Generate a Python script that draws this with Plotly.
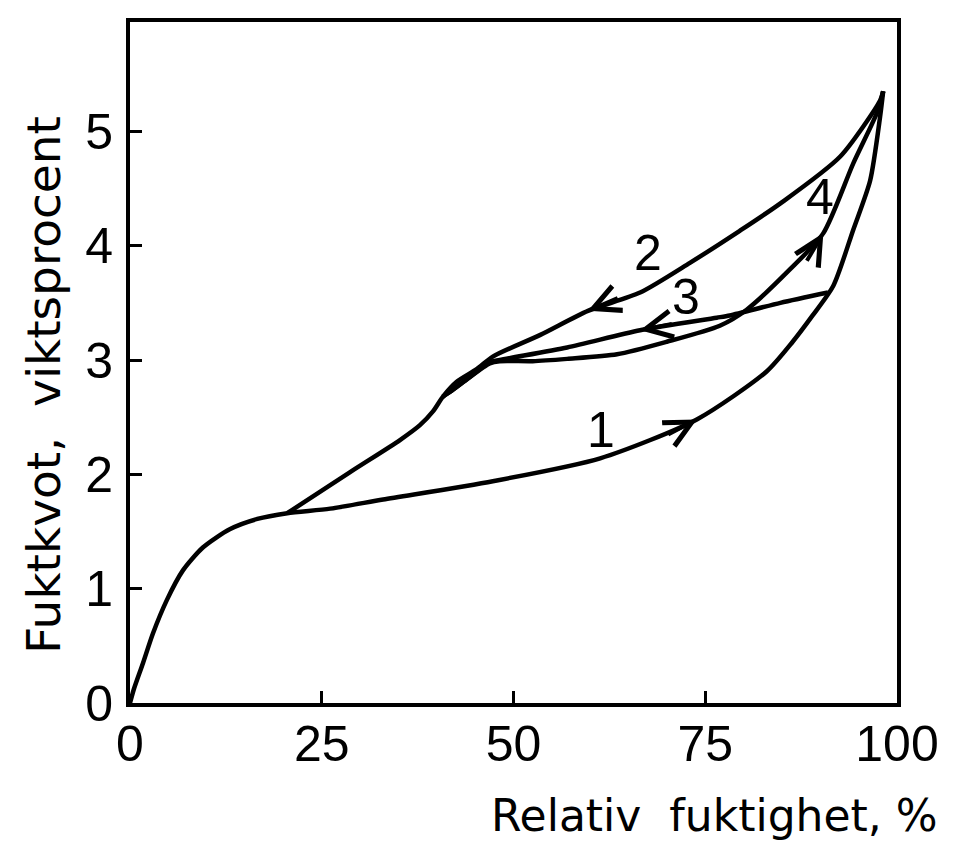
import math
import plotly.graph_objects as go

# ---- data (relative humidity %, moisture content weight-%) ----
# Curve 1: absorption from dry state
rh_1 = [0.0, 0.5, 1.7, 3.0, 4.8, 6.9, 9.5, 13.0, 16.6, 20.5, 26.1, 33.0, 47.3,
        61.3, 73.9, 83.0, 86.4, 89.0, 91.7, 94.3, 96.5, 97.8, 98.2]
mc_1 = [0.0, 0.12, 0.35, 0.61, 0.90, 1.16, 1.36, 1.52, 1.61, 1.66, 1.70, 1.78, 1.94,
        2.14, 2.48, 2.90, 3.16, 3.39, 3.65, 4.14, 4.57, 5.13, 5.35]

# Curve 2: desorption from the top
rh_2 = [98.2, 97.8, 92.6, 84.8, 79.5, 73.0, 66.5, 59.7, 53.5, 47.3, 45.2, 42.6,
        40.8, 39.5, 37.8, 35.2, 28.7, 20.5]
mc_2 = [5.35, 5.27, 4.78, 4.37, 4.13, 3.85, 3.59, 3.43, 3.22, 3.03, 2.92, 2.81,
        2.68, 2.55, 2.43, 2.30, 2.02, 1.66]

# Curve 3: desorption starting at ~91 % RH on curve 1
rh_3 = [91.0, 84.8, 78.2, 76.5, 66.5, 57.0, 48.2, 46.9, 43.9, 41.7, 40.8]
mc_3 = [3.59, 3.50, 3.39, 3.37, 3.26, 3.11, 3.00, 2.98, 2.83, 2.72, 2.68]

# Curve 4: renewed absorption
rh_4 = [40.8, 41.7, 43.9, 46.9, 48.2, 52.5, 57.0, 63.5, 70.0, 76.9, 80.4, 86.0,
        90.4, 94.3, 97.5, 98.2]
mc_4 = [2.68, 2.72, 2.83, 2.97, 2.99, 2.99, 3.01, 3.05, 3.16, 3.30, 3.44, 3.79,
        4.11, 4.72, 5.18, 5.35]

curve_names = ["1", "2", "3", "4"]
arrow_index = [14, 7, 4, 12]          # point on each curve where the arrow tip sits
label_pos = [(61.4, 2.39), (67.5, 3.94), (72.5, 3.55), (90.0, 4.43)]

x_ticks = [0, 25, 50, 75, 100]
y_ticks = [0, 1, 2, 3, 4, 5]
x_title = "Relativ  fuktighet, %"
y_title = "Fuktkvot,  viktsprocent"

curves = [(rh_1, mc_1), (rh_2, mc_2), (rh_3, mc_3), (rh_4, mc_4)]

X_RANGE = [0, 100]
Y_RANGE = [0, 685 / 115]
PLOT_W, PLOT_H = 767, 685
px_per_x = PLOT_W / (X_RANGE[1] - X_RANGE[0])
px_per_y = PLOT_H / (Y_RANGE[1] - Y_RANGE[0])

fig = go.Figure()
for name, (xs, ys) in zip(curve_names, curves):
    fig.add_trace(go.Scatter(x=xs, y=ys, mode="lines", name=name,
                             line=dict(color="black", width=4.5, shape="spline", smoothing=0.7),
                             showlegend=False, hoverinfo="skip"))

annotations = []
SHAFT = 34  # px
for (xs, ys), i in zip(curves, arrow_index):
    tx, ty = xs[i], ys[i]
    # local direction of travel along the curve (pixel space, y downwards)
    dx = (xs[i + 1] - xs[i - 1]) * px_per_x
    dy = -(ys[i + 1] - ys[i - 1]) * px_per_y
    n = math.hypot(dx, dy)
    annotations.append(dict(x=tx, y=ty, ax=-dx / n * SHAFT, ay=-dy / n * SHAFT,
                            xref="x", yref="y", text="",
                            showarrow=True, arrowhead=5, arrowsize=1.3, arrowwidth=4,
                            arrowcolor="black", standoff=0))

digit_font = dict(family="Liberation Sans, Arial, sans-serif", size=50, color="black")
xtitle_font = dict(family="DejaVu Sans, sans-serif", size=44, color="black")
ytitle_font = dict(family="DejaVu Sans, sans-serif", size=47, color="black")

for name, (lx, ly) in zip(curve_names, label_pos):
    annotations.append(dict(x=lx, y=ly, xref="x", yref="y", text=name, showarrow=False,
                            font=digit_font, xanchor="center", yanchor="middle"))

# page body adds an 8 px offset; the plot area below is laid out for that
annotations.append(dict(x=(940 - 130) / 767, y=(703 - 816) / 685, xref="paper", yref="paper",
                        text=x_title, showarrow=False, font=xtitle_font,
                        xanchor="right", yanchor="middle"))
annotations.append(dict(x=(44 - 130) / 767, y=(703 - 383) / 685, xref="paper", yref="paper",
                        text=y_title, showarrow=False, font=ytitle_font, textangle=-90,
                        xanchor="center", yanchor="middle"))

fig.update_layout(
    width=953, height=839,
    margin=dict(l=122, r=64, t=10, b=144),
    paper_bgcolor="white", plot_bgcolor="white",
    annotations=annotations,
    xaxis=dict(range=X_RANGE, tickvals=x_ticks, ticks="inside", ticklen=12, tickwidth=3,
               tickcolor="black", showline=True, linewidth=4, linecolor="black", mirror=True,
               showgrid=False, zeroline=False, tickfont=digit_font, ticklabelstandoff=-6),
    yaxis=dict(range=Y_RANGE, tickvals=y_ticks, ticks="inside", ticklen=12, tickwidth=3,
               tickcolor="black", showline=True, linewidth=4, linecolor="black", mirror=True,
               showgrid=False, zeroline=False, tickfont=digit_font, ticklabelstandoff=3),
)

fig.write_html("out.html")
